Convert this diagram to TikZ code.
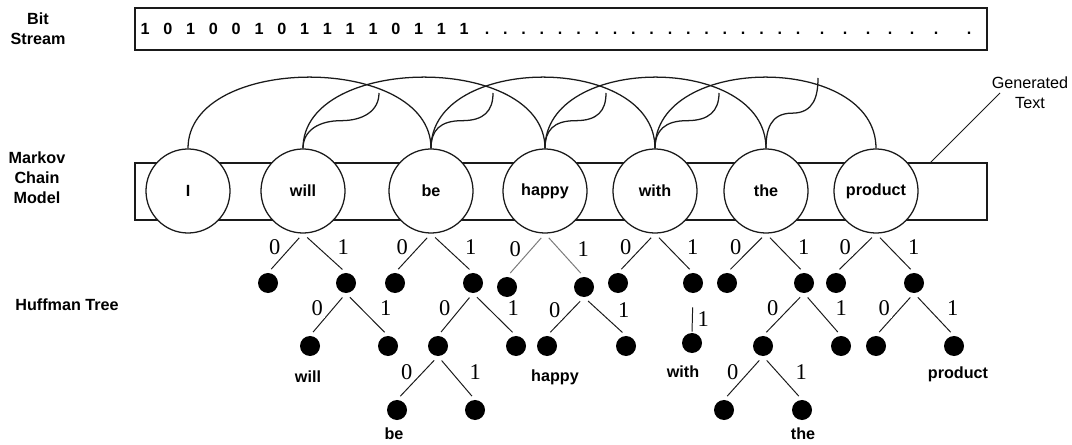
\documentclass[tikz,border=0pt]{standalone}
\usepackage{fontspec}
\setmainfont{Liberation Sans}
\newfontfamily\bitsfont{Liberation Serif}
\usepackage{tikz}
\usepackage{xcolor}
\usetikzlibrary{arrows.meta,positioning,calc}
\definecolor{ink}{HTML}{1A1A1A}
\definecolor{inkgray}{HTML}{7A7A7A}
\newcommand\bitsize{\bitsfont\fontsize{16}{18}\selectfont}
\newcommand\labsize{\fontsize{11.5}{14.2}\selectfont}
\tikzset{
  sidelabel/.style={font=\labsize\bfseries, align=center, inner sep=0pt},
  wordnode/.style={draw=ink, fill=white, circle, line width=0.9pt,
                   minimum size=2.1cm, inner sep=0pt, font=\labsize\bfseries},
  framebox/.style={draw=ink, line width=0.9pt, minimum width=21.3cm, inner sep=0pt},
  leaf/.style={circle, fill=black, minimum size=0.5cm, inner sep=0pt},
  branch/.style={draw=ink, line width=0.7pt, shorten <=0.14cm, shorten >=0.12cm},
  wire/.style={draw=ink, line width=0.9pt},
  bit0/.style={pos=0.5, xshift=-0.27cm, yshift=0.15cm, fill=white, inner sep=1.2pt, font=\bitsize},
  bit1/.style={pos=0.5, xshift=0.47cm, yshift=0.15cm, inner sep=1pt, font=\bitsize},
  bitchar/.style={anchor=base, inner sep=0pt, font=\labsize\bfseries}
}
\begin{document}
\begin{tikzpicture}[x=0.025cm,y=-0.025cm]
  \useasboundingbox (0,0) rectangle (1072,445);
  % row titles
  \node[sidelabel] (tbits) at (38,29) {Bit\\Stream};
  \node[sidelabel] (tchain) at (37,178) {Markov\\Chain\\Model};
  \node[sidelabel] (ttree) at (67,305) {Huffman Tree};

  % bit stream
  \node[framebox, minimum height=1.05cm] (bits) at (561,29) {};
  \foreach \b [count=\i from 0] in {1,0,1,0,0,1,0,1,1,1,1,0,1,1,1}
    \node[bitchar] (b\i) at (145+22.8*\i,35) {\b};
  \foreach \i in {0,...,17}
    \node[bitchar] (d\i) at (487+18.3*\i,35) {.};
  \foreach \x [count=\i from 18] in {822,845,868,890,912,936,969}
    \node[bitchar] (d\i) at (\x,35) {.};

  % markov chain
  \node[framebox, minimum height=1.425cm] (chain) at (561,191.5) {};
  \foreach \w/\x in {I/188,will/303,be/431,happy/545,with/655,the/766,product/876}
    \node[wordnode] (\w) at (\x,191) {\w};

  \foreach \a/\b in {I/be,will/happy,be/with,happy/the,with/product}
    \draw[wire] (\a.north) .. controls +(0,-95) and +(0,-95) .. (\b.north);

  \coordinate (t1) at (379,93);
  \coordinate (t2) at (493,93);
  \coordinate (t3) at (606,93);
  \coordinate (t4) at (719,93);
  \coordinate (t5) at (818,78);
  \foreach \w/\t in {will/t1,be/t2,happy/t3,with/t4,the/t5}
    \draw[wire] (\w.north) .. controls +(0,-18) and +(-22,0) .. ($(\w.north)!0.5!(\t)$)
                .. controls +(22,0) and +(0,18) .. (\t);

  % generated text callout
  \node[font=\labsize, align=center, inner sep=0pt] (gen) at (1030,93) {Generated\\Text};
  \coordinate (genfoot) at (930,163);
  \coordinate (gentip) at (1000,93);
  \draw[wire, line width=0.7pt] (genfoot) -- (gentip);

  % huffman trees
  \foreach \n/\x/\y in {wl0/268/283,wl1/346/283,wl10/310/346,wl11/388/346,
                        bl0/395/283,bl1/473/283,bl10/438/346,bl11/516/346,bl100/397/410,bl101/475/410,
                        hl0/507/287,hl1/584/287,hl10/547/346,hl11/626/346,
                        wi0/618/283,wi1/693/283,wi11/692/343,
                        th0/727/283,th1/804/283,th10/763/346,th11/841/346,th100/724/410,th101/802/410,
                        pr0/836/283,pr1/914/283,pr10/876/346,pr11/954/346}
    \node[leaf] (\n) at (\x,\y) {};

  \foreach \p/\c/\b in {will/wl0/0,will/wl1/1,wl1/wl10/0,wl1/wl11/1,
                        be/bl0/0,be/bl1/1,bl1/bl10/0,bl1/bl11/1,bl10/bl100/0,bl10/bl101/1,
                        hl1/hl10/0,hl1/hl11/1,
                        with/wi0/0,with/wi1/1,
                        the/th0/0,the/th1/1,th1/th10/0,th1/th11/1,th10/th100/0,th10/th101/1,
                        product/pr0/0,product/pr1/1,pr1/pr10/0,pr1/pr11/1}
    \draw[branch] (\p.south) -- (\c.north) node[bit\b] {\b};
  \draw[branch, draw=inkgray] (happy.south) -- (hl0.north) node[bit0] {0};
  \draw[branch, draw=inkgray] (happy.south) -- (hl1.north) node[bit1] {1};
  \draw[branch, shorten <=0.35cm, shorten >=0.03cm] (wi1.south) -- (wi11.north)
    node[pos=0.5, xshift=0.27cm, yshift=-0.15cm, inner sep=1pt, font=\bitsize] {1};

  % words reached in each tree
  \node[sidelabel] (lwill) at (308,377) {will};
  \node[sidelabel] (lbe) at (394,434) {be};
  \node[sidelabel] (lhappy) at (555,377) {happy};
  \node[sidelabel] (lwith) at (683,372) {with};
  \node[sidelabel] (lthe) at (803,434) {the};
  \node[sidelabel] (lproduct) at (958,374) {product};
\end{tikzpicture}
\end{document}
